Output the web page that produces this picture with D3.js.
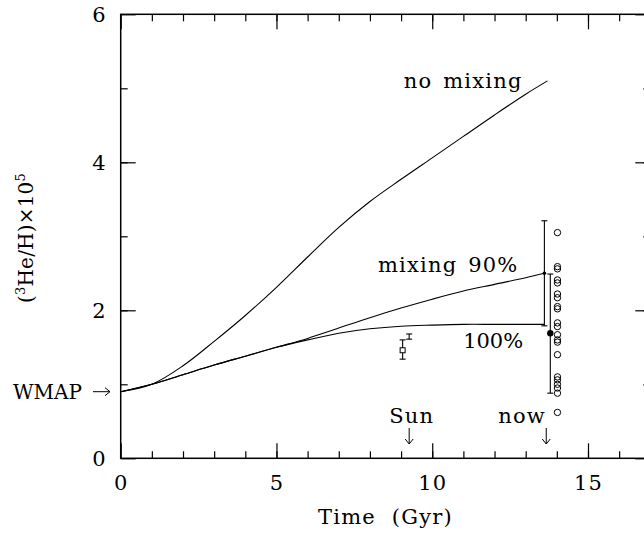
<!DOCTYPE html>
<html>
<head>
<meta charset="utf-8">
<script src="https://cdn.jsdelivr.net/npm/d3@7"></script>
<style>
  body { margin: 0; background: #fff; }
  text { font-family: "DejaVu Serif", serif; font-size: 21px; letter-spacing: 1.2px; word-spacing: 3px; fill: #000; }
</style>
</head>
<body>
<div id="chart"></div>
<script>
// model curves, (3He/H) x 1e5 vs time in Gyr
const tNoMix = [0, 1, 2, 3, 4, 5, 6, 7, 8, 9, 10, 11, 12, 13, 13.7];
const noMixing = [0.90, 1.00, 1.25, 1.58, 1.93, 2.31, 2.72, 3.12, 3.47, 3.77, 4.06, 4.35, 4.64, 4.92, 5.10];
const tMix = [0, 1, 2, 3, 4, 5, 6, 7, 8, 9, 10, 11, 12, 13, 13.6];
const mix90 = [0.90, 1.00, 1.13, 1.26, 1.38, 1.50, 1.62, 1.76, 1.90, 2.03, 2.15, 2.26, 2.35, 2.44, 2.50];
const mix100 = [0.90, 1.00, 1.13, 1.26, 1.38, 1.50, 1.60, 1.69, 1.75, 1.785, 1.80, 1.81, 1.81, 1.81, 1.81];

// HII region measurements (open circles)
const hiiX = 14.02;
const hiiValues = [3.05, 2.59, 2.56, 2.41, 2.37, 2.22, 2.17, 2.05, 2.02, 1.83, 1.78, 1.67, 1.60, 1.57, 1.40, 1.10, 1.06, 1.00, 0.95, 0.88, 0.62];

// error bars at "now"
const nowBarX = [13.6, 13.79];
const nowBarMid = [2.50, 1.69];
const nowBarLo = [1.79, 0.88];
const nowBarHi = [3.21, 2.49];

// protosolar values
const sunBarX = [9.05, 9.26];
const sunBarLo = [1.34, 1.61];
const sunBarHi = [1.60, 1.68];
const sunMid = 1.46;

const xTicks = [0, 5, 10, 15];
const yTicks = [0, 2, 4, 6];
const wmapValue = 0.90;
const sunTime = 9.26, nowTime = 13.66;

const W = 644, H = 537;
const svg = d3.select("#chart").append("svg")
    .attr("width", W).attr("height", H);

const x = d3.scaleLinear().domain([0, 17]).range([120.7, 650.3]);
const y = d3.scaleLinear().domain([0, 6]).range([458.3, 14.3]);

// frame
svg.append("rect")
    .attr("x", x(0)).attr("y", y(6))
    .attr("width", x(17) - x(0)).attr("height", y(0) - y(6))
    .attr("fill", "none").attr("stroke", "#000").attr("stroke-width", 1.5);

const minorX = d3.range(1, 17), minorY = d3.range(1, 6);
const majLen = 15, minLen = 7;

function styleAxis(g) {
  g.select(".domain").remove();
  g.selectAll(".tick line").attr("stroke", "#000").attr("stroke-width", 1.2);
}

// bottom
svg.append("g").attr("transform", `translate(0,${y(0)})`)
    .call(d3.axisBottom(x).tickValues(minorX).tickSize(-minLen).tickFormat(""))
    .call(styleAxis);
svg.append("g").attr("transform", `translate(0,${y(0)})`)
    .call(d3.axisBottom(x).tickValues(xTicks).tickSize(-majLen).tickPadding(16.5).tickFormat(d3.format("d")))
    .call(styleAxis)
    .selectAll("text").attr("font-size", null).attr("font-family", null);
// top
svg.append("g").attr("transform", `translate(0,${y(6)})`)
    .call(d3.axisTop(x).tickValues(minorX).tickSize(-minLen).tickFormat(""))
    .call(styleAxis);
svg.append("g").attr("transform", `translate(0,${y(6)})`)
    .call(d3.axisTop(x).tickValues(xTicks).tickSize(-majLen).tickFormat(""))
    .call(styleAxis);
// left
svg.append("g").attr("transform", `translate(${x(0)},0)`)
    .call(d3.axisLeft(y).tickValues(minorY).tickSize(-minLen).tickFormat(""))
    .call(styleAxis);
svg.append("g").attr("transform", `translate(${x(0)},0)`)
    .call(d3.axisLeft(y).tickValues(yTicks).tickSize(-majLen).tickPadding(14).tickFormat(d3.format("d")))
    .call(styleAxis)
    .selectAll("text").attr("font-size", null).attr("font-family", null);
// right
svg.append("g").attr("transform", `translate(${x(17)},0)`)
    .call(d3.axisRight(y).tickValues(minorY).tickSize(-minLen).tickFormat(""))
    .call(styleAxis);
svg.append("g").attr("transform", `translate(${x(17)},0)`)
    .call(d3.axisRight(y).tickValues(yTicks).tickSize(-majLen).tickFormat(""))
    .call(styleAxis);

// curves
const line = d3.line()
    .x(d => x(d[0])).y(d => y(d[1]))
    .curve(d3.curveCatmullRom.alpha(0.5));

const curves = [
  d3.zip(tNoMix, noMixing),
  d3.zip(tMix, mix90),
  d3.zip(tMix, mix100)
];
svg.selectAll(".curve")
    .data(curves)
    .join("path")
    .attr("class", "curve")
    .attr("d", line)
    .attr("fill", "none").attr("stroke", "#000").attr("stroke-width", 1.1);

// error bars
function errBar(cx, lo, hi, cap) {
  const g = svg.append("g").attr("stroke", "#000").attr("stroke-width", 1.1);
  g.append("line").attr("x1", x(cx)).attr("x2", x(cx)).attr("y1", y(lo)).attr("y2", y(hi));
  [lo, hi].forEach(v => {
    g.append("line").attr("x1", x(cx) - cap).attr("x2", x(cx) + cap)
        .attr("y1", y(v)).attr("y2", y(v));
  });
}
nowBarX.forEach((v, i) => errBar(v, nowBarLo[i], nowBarHi[i], 3));
sunBarX.forEach((v, i) => errBar(v, sunBarLo[i], sunBarHi[i], 3));

svg.append("circle").attr("cx", x(nowBarX[0])).attr("cy", y(nowBarMid[0])).attr("r", 1.8).attr("fill", "#000");
svg.append("circle").attr("cx", x(nowBarX[1])).attr("cy", y(nowBarMid[1])).attr("r", 3.2).attr("fill", "#000");

svg.append("rect")
    .attr("x", x(sunBarX[0]) - 2.5).attr("y", y(sunMid) - 2.5)
    .attr("width", 5).attr("height", 5)
    .attr("fill", "#fff").attr("stroke", "#000").attr("stroke-width", 1);

svg.selectAll(".hii")
    .data(hiiValues)
    .join("circle")
    .attr("class", "hii")
    .attr("cx", x(hiiX)).attr("cy", d => y(d))
    .attr("r", 3.2).attr("fill", "none").attr("stroke", "#000").attr("stroke-width", 1);

// labels
svg.append("text").attr("x", x(12.9)).attr("y", y(5.0)).attr("text-anchor", "end").text("no mixing");
svg.append("text").attr("x", x(12.77)).attr("y", y(2.52)).attr("text-anchor", "end").text("mixing 90%");
svg.append("text").attr("x", x(12.92)).attr("y", y(1.49)).attr("text-anchor", "end")
    .style("letter-spacing", "0px").text("100%");

svg.append("text").attr("x", x(9.34)).attr("y", y(0.48)).attr("text-anchor", "middle").text("Sun");
svg.append("text").attr("x", x(13.65)).attr("y", y(0.48)).attr("text-anchor", "end").text("now");

// down arrows
[sunTime, nowTime].forEach(t => {
  const g = svg.append("g").attr("stroke", "#000").attr("stroke-width", 1).attr("fill", "none");
  g.append("line").attr("x1", x(t)).attr("x2", x(t)).attr("y1", 428).attr("y2", 444);
  g.append("path").attr("d", `M${x(t) - 4},${439} L${x(t)},${444} L${x(t) + 4},${439}`);
});

// WMAP arrow
svg.append("text").attr("x", 13).attr("y", y(wmapValue) + 7)
    .style("font-size", "20px").style("letter-spacing", "0px").text("WMAP");
const wg = svg.append("g").attr("stroke", "#000").attr("stroke-width", 1).attr("fill", "none");
wg.append("line").attr("x1", 93).attr("x2", 110).attr("y1", y(wmapValue)).attr("y2", y(wmapValue));
wg.append("path").attr("d", `M105,${y(wmapValue) - 4} L110,${y(wmapValue)} L105,${y(wmapValue) + 4}`);

// axis titles
svg.append("text")
    .attr("x", (x(0) + x(17)) / 2).attr("y", 524)
    .attr("text-anchor", "middle")
    .style("word-spacing", "8px")
    .text("Time (Gyr)");

const yt = svg.append("text")
    .attr("transform", `translate(33,238) rotate(-90)`)
    .attr("text-anchor", "middle")
    .style("font-size", "20px").style("letter-spacing", "0.2px");
yt.append("tspan").text("(");
yt.append("tspan").attr("dy", -8).style("font-size", "13px").text("3");
yt.append("tspan").attr("dy", 8).text("He/H)×10");
yt.append("tspan").attr("dy", -8).style("font-size", "13px").text("5");
</script>
</body>
</html>
